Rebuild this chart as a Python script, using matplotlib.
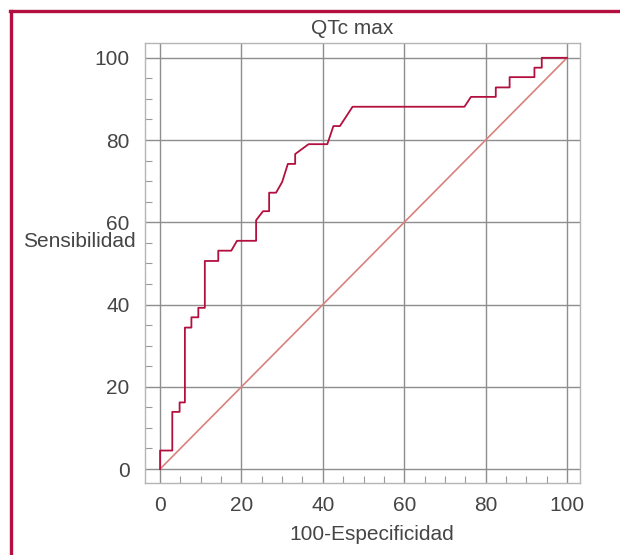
import matplotlib
matplotlib.use('Agg')
import matplotlib.pyplot as plt
from matplotlib.lines import Line2D
from matplotlib.ticker import MultipleLocator

# ROC curve (100-specificity, sensitivity)
fpr = [0, 0, 3.0, 3.0, 4.8, 4.8, 6.1, 6.1, 7.7, 7.7, 9.4, 9.4, 11.0, 11.0,
       14.3, 14.3, 17.5, 18.9, 23.6, 23.6, 25.3, 26.8, 26.8, 28.5, 30.0,
       31.4, 33.2, 33.2, 36.5, 41.1, 42.6, 44.2, 47.3, 74.8, 76.4, 82.5,
       82.5, 85.9, 85.9, 92.0, 92.0, 93.8, 93.8, 100]
tpr = [0, 4.5, 4.5, 13.9, 13.9, 16.2, 16.2, 34.4, 34.4, 36.9, 36.9, 39.2,
       39.2, 50.6, 50.6, 53.1, 53.1, 55.5, 55.5, 60.5, 62.7, 62.7, 67.2,
       67.2, 69.8, 74.2, 74.2, 76.6, 79.0, 79.0, 83.4, 83.4, 88.1, 88.1,
       90.5, 90.5, 92.8, 92.8, 95.3, 95.3, 97.6, 97.6, 100, 100]
ref_x = [0, 100]
ref_y = [0, 100]
ticks = [0, 20, 40, 60, 80, 100]

plt.rcParams['font.family'] = ['Liberation Sans', 'DejaVu Sans']
txt = '#454545'

fig = plt.figure(figsize=(6.2, 5.55), dpi=100)
ax = fig.add_axes([0.2339, 0.1297, 0.7016, 0.7928])

ax.plot(ref_x, ref_y, color='#d9817c', lw=1.2, zorder=3)
ax.plot(fpr, tpr, color='#b3103f', lw=1.3, zorder=4)

ax.set_xlim(-3.7, 103.2)
ax.set_ylim(-3.4, 103.6)
ax.set_xticks(ticks)
ax.set_yticks(ticks)
ax.xaxis.set_minor_locator(MultipleLocator(5))
ax.yaxis.set_minor_locator(MultipleLocator(5))
ax.tick_params(which='major', length=0, labelsize=15, labelcolor=txt, pad=9)
ax.tick_params(axis='y', which='major', pad=11)
ax.tick_params(which='minor', direction='in', length=5, width=0.8,
               color='#9a9a9a')
ax.grid(True, which='major', color='#8e8e8e', lw=1.0, zorder=1)
for s in ax.spines.values():
    s.set_color('#b5b5b5')
    s.set_linewidth(1.0)

ax.text(0.476, 1.034, 'QTc max', transform=ax.transAxes, ha='center',
        va='center', fontsize=15, color=txt)
ax.set_xlabel('100-Especificidad', fontsize=15, color=txt, va='center')
ax.xaxis.set_label_coords(0.522, -0.118)
ax.set_ylabel('Sensibilidad', fontsize=15, color=txt, rotation=0,
              ha='right', va='center')
ax.yaxis.set_label_coords(-0.021, 0.548)

# frame lines along the top and left of the figure
border = '#b3103f'
fig.add_artist(Line2D([10 / 620, 1.0], [1 - 11 / 555, 1 - 11 / 555],
                      transform=fig.transFigure, color=border, lw=2.4))
fig.add_artist(Line2D([11 / 620, 11 / 620], [0, 1 - 11 / 555],
                      transform=fig.transFigure, color=border, lw=2.4))

fig.savefig('out.png', dpi=100)
